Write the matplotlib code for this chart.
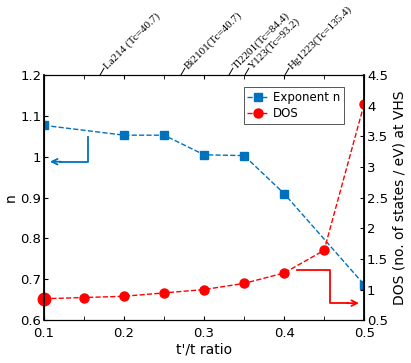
import numpy as np
import matplotlib.pyplot as plt

# t'/t ratio values
ratio = [0.1, 0.15, 0.2, 0.25, 0.3, 0.35, 0.4, 0.45, 0.5]
# exponent n (left axis), only measured at some ratios
n_ratio = [0.1, 0.2, 0.25, 0.3, 0.35, 0.4, 0.5]
exponent_n = [1.077, 1.053, 1.053, 1.005, 1.003, 0.91, 0.687]
# DOS at VHS (right axis)
dos = [0.85, 0.87, 0.89, 0.945, 1.0, 1.1, 1.27, 1.64, 4.03]

# cuprate markers along the top
cuprate_x = [0.17, 0.271, 0.331, 0.351, 0.401]
cuprate_labels = ["La214 (Tc=40.7)", "Bi2101(Tc=40.7)", "Tl2201(Tc=84.4)",
                  "Y123(Tc=93.2)", "Hg1223(Tc=135.4)"]

blue = '#0072BD'
red = '#FF0000'

fig = plt.figure(figsize=(4.11, 3.63), dpi=100)
ax = fig.add_axes([0.107, 0.118, 0.779, 0.675])
ax2 = ax.twinx()

l1, = ax.plot(n_ratio, exponent_n, '--s', color=blue, lw=1, ms=5.5,
              label='Exponent n')
l2, = ax2.plot(ratio, dos, '--o', color=red, lw=1, ms=6.5, label='DOS')
ax2.plot(ratio[:1], dos[:1], 'o', color=red, ms=9, clip_on=False)

ax.set_xlim(0.1, 0.5)
ax.set_ylim(0.6, 1.2)
ax2.set_ylim(0.5, 4.5)
ax.set_xticks([0.1, 0.2, 0.3, 0.4, 0.5])
ax.set_xticklabels(['0.1', '0.2', '0.3', '0.4', '0.5'])
ax.set_xticks([0.15, 0.25, 0.35, 0.45], minor=True)
ax.set_yticks(np.arange(0.6, 1.21, 0.1))
ax.set_yticklabels(['0.6', '0.7', '0.8', '0.9', '1', '1.1', '1.2'])
ax2.set_yticks(np.arange(0.5, 4.51, 0.5))
ax2.set_yticklabels(['0.5', '1', '1.5', '2', '2.5', '3', '3.5', '4', '4.5'])

ax.tick_params(axis='both', which='both', direction='in', top=True,
               labelsize=9.5, length=3, pad=2)
ax.tick_params(axis='x', pad=5)
ax2.tick_params(axis='y', direction='in', labelsize=9.5, length=3, pad=2)
for sp in ['top', 'bottom']:
    ax.spines[sp].set_linewidth(0.8)
ax2.spines['left'].set_linewidth(1.3)
ax2.spines['right'].set_linewidth(1.3)

ax.set_xlabel("t'/t ratio", fontsize=10, labelpad=2)
ax.set_ylabel('n', fontsize=10, labelpad=2)
ax2.set_ylabel('DOS (no. of states / eV) at VHS', fontsize=10, labelpad=3)

# cuprate labels along top axis
xtr = ax.get_xaxis_transform()
for xv, lab in zip(cuprate_x, cuprate_labels):
    ax.plot([xv, xv + 0.005], [1.0, 1.028], color='black', lw=0.7,
            transform=xtr, clip_on=False)
    ax.text(xv + 0.007, 1.03, lab, transform=xtr,
            rotation=45, rotation_mode='anchor', ha='left', va='center',
            fontsize=8, family='Liberation Serif')

# direction arrows
ax.plot([0.155, 0.155, 0.12], [1.049, 0.988, 0.988], color=blue, lw=1.3)
ax.annotate('', xy=(0.104, 0.988), xytext=(0.125, 0.988),
            arrowprops=dict(arrowstyle='->', color=blue, lw=1.3))
ax2.plot([0.416, 0.4575, 0.4575, 0.48], [1.316, 1.316, 0.778, 0.778],
         color=red, lw=1.3)
ax2.annotate('', xy=(0.497, 0.778), xytext=(0.475, 0.778),
             arrowprops=dict(arrowstyle='->', color=red, lw=1.3))

leg = ax2.legend(handles=[l1, l2], loc='upper right',
                 bbox_to_anchor=(0.955, 0.975), fontsize=8.5,
                 fancybox=False, edgecolor='#555555', framealpha=1,
                 handlelength=1.8, handletextpad=0.4, borderpad=0.3,
                 labelspacing=0.3)
leg.get_frame().set_linewidth(0.7)

fig.savefig('out.png', dpi=100)
